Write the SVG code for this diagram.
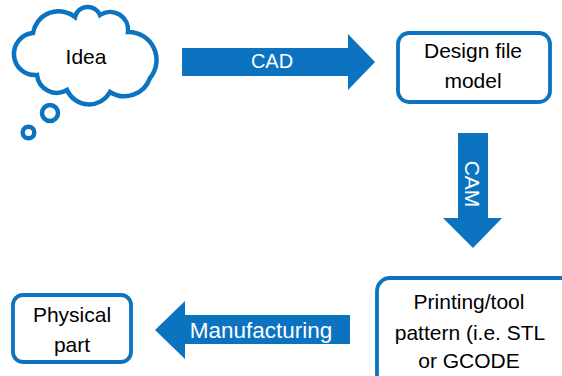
<svg xmlns="http://www.w3.org/2000/svg" width="562" height="376" viewBox="0 0 562 376">
  <style>
    .outline { fill: #ffffff; stroke: #0B73BF; stroke-width: 3.8; }
    .cloud { fill: #ffffff; stroke: #0B73BF; stroke-width: 4.5; }
    .arrow { fill: #0B73BF; stroke: none; }
    .label { font-family: "Liberation Sans", Arial, sans-serif; font-size: 21px; fill: #000000; text-anchor: middle; }
    .arrow-label { font-family: "Liberation Sans", Arial, sans-serif; font-size: 20px; fill: #ffffff; text-anchor: middle; }
  </style>
  <rect width="562" height="376" fill="#ffffff"/>

  <!-- Thought cloud -->
  <g id="idea">
    <path class="cloud" d="M37,75 A21,21 0 0 1 33,33 A26,26 0 0 1 75,17 A13.2,13.2 0 0 1 100,15 A18,18 0 0 1 128,32 A28,28 0 0 1 150,78 A27,27 0 0 1 110,92 A24,24 0 0 1 67,90 A20,20 0 0 1 37,75 Z"/>
    <circle class="cloud" cx="50" cy="113" r="8"/>
    <circle class="cloud" cx="28.5" cy="132.5" r="5.8"/>
    <text class="label" x="86" y="64">Idea</text>
  </g>

  <g id="design-file">
    <rect class="outline" x="398" y="33" width="152" height="69" rx="11"/>
    <text class="label" x="473" y="58">Design file</text>
    <text class="label" x="473" y="88">model</text>
  </g>

  <g id="printing-pattern">
    <rect class="outline" x="377" y="278" width="200" height="120" rx="13"/>
    <text class="label" x="469" y="309">Printing/tool</text>
    <text class="label" x="470" y="340">pattern (i.e. STL</text>
    <text class="label" x="469" y="368">or GCODE</text>
  </g>

  <g id="physical-part">
    <rect class="outline" x="13" y="295" width="118" height="67" rx="10"/>
    <text class="label" x="72" y="322">Physical</text>
    <text class="label" x="72" y="352">part</text>
  </g>

  <!-- Block arrows between stages -->
  <g id="connectors">
    <g id="cad">
      <path class="arrow" d="M182,48 H348 V34 L375,62 L348,90 V76 H182 Z"/>
      <text class="arrow-label" x="272" y="68">CAD</text>
    </g>
    <g id="cam">
      <path class="arrow" d="M458,133 H488 V218 H502 L473,248 L443,218 H458 Z"/>
      <text class="arrow-label" style="font-size:21px" transform="translate(472,184) rotate(90)" x="0" y="7.5">CAM</text>
    </g>
    <g id="manufacturing">
      <path class="arrow" d="M350,315 H185 V301 L155,330 L185,359 V344 H350 Z"/>
      <text class="arrow-label" style="font-size:22.5px" x="261" y="338">Manufacturing</text>
    </g>
  </g>
</svg>
